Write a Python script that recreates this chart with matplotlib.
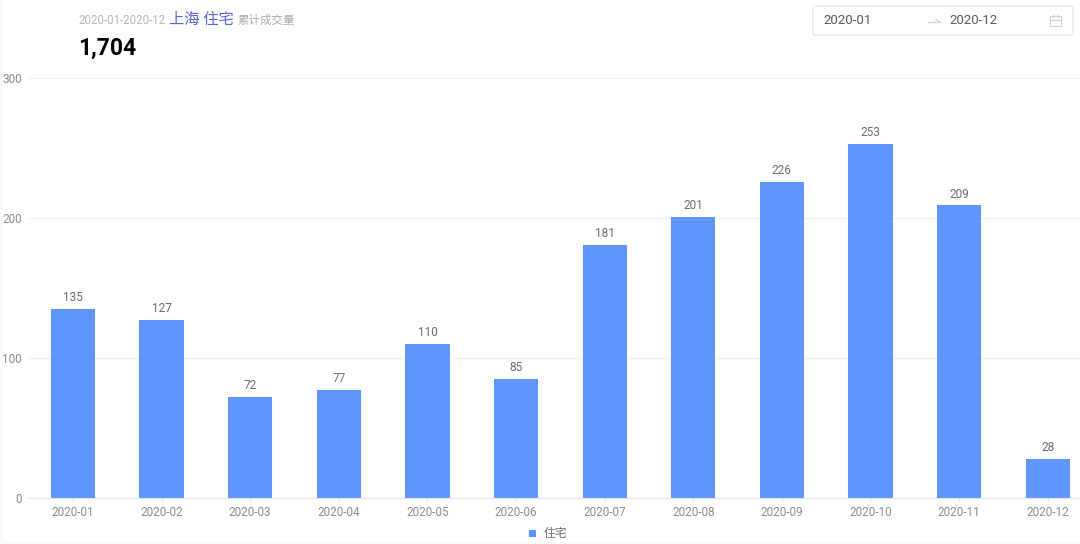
# plot.py - monthly residential transactions, Shanghai 2020
import matplotlib
matplotlib.use("Agg")
import matplotlib.pyplot as plt
from matplotlib.patches import FancyBboxPatch, Rectangle

plt.rcParams['font.family'] = ['Roboto', 'Noto Sans CJK SC', 'DejaVu Sans']

months = ['2020-01', '2020-02', '2020-03', '2020-04', '2020-05', '2020-06',
          '2020-07', '2020-08', '2020-09', '2020-10', '2020-11', '2020-12']
values = [135, 127, 72, 77, 110, 85, 181, 201, 226, 253, 209, 28]
y_ticks = [0, 100, 200, 300]
series_name = '住宅'
total_label = '1,704'
date_range = '2020-01-2020-12'
city_type = '上海 住宅'
caption = '累计成交量'
range_start = '2020-01'
range_end = '2020-12'

W, H = 1080, 544
BAR = '#5f95fc'

fig = plt.figure(figsize=(W / 100, H / 100), dpi=100, facecolor='#f6f9ff')


def px(x, y):
    # pixel position (y from the top) to figure fraction
    return x / W, 1 - y / H


# white card behind everything
overlay = fig.add_axes([0, 0, 1, 1], zorder=0)
overlay.set_xlim(0, W)
overlay.set_ylim(H, 0)
overlay.axis('off')
overlay.add_patch(FancyBboxPatch((3, -20), W + 30, H + 20 - 2,
                                 boxstyle='round,pad=0,rounding_size=8',
                                 fc='white', ec='none'))

# chart runs a little past the right edge, same as the screenshot
left, right, top, bottom = 28.7, 1092, 78, 498
ax = fig.add_axes([left / W, 1 - bottom / H, (right - left) / W, (bottom - top) / H],
                  zorder=1, clip_on=True)
ax.patch.set_alpha(0)
ax.bar(months, values, width=0.5, color=BAR, zorder=2)
ax.set_xlim(-0.5, 11.5)
ax.set_ylim(0, 300)
ax.set_yticks(y_ticks)
ax.grid(axis='y', color='#f2f2f2', linewidth=1, zorder=0)
ax.set_axisbelow(True)
for side in ['top', 'right', 'left']:
    ax.spines[side].set_visible(False)
ax.spines['bottom'].set_color('#e6e6e6')
ax.tick_params(axis='x', length=3, color='#e6e6e6', labelsize=8.5, labelcolor='#8c8c8c', pad=3)
ax.tick_params(axis='y', length=0, labelsize=8.5, labelcolor='#8c8c8c', pad=5)

for i, v in enumerate(values):
    ax.annotate(str(v), (i, v), xytext=(0, 3.5), textcoords='offset points',
                ha='center', va='bottom', fontsize=8.5, color='#6a6a6a')

# header
fig.text(*px(78, 20), date_range, fontsize=8.3, color='#b5b5c0', va='center')
fig.text(*px(169, 20), city_type, fontsize=11, color='#5a62cc', va='center')
fig.text(*px(237, 20), caption, fontsize=8.3, color='#a8a8b0', va='center')
fig.text(*px(78.5, 48.5), total_label, fontsize=16.5, fontweight='bold', color='black', va='center')

# date picker box
overlay.add_patch(FancyBboxPatch((813, 6), 260, 29, boxstyle='round,pad=0,rounding_size=2',
                                 fc='white', ec='#e8e8e8', lw=1))
fig.text(*px(823.5, 21), range_start, fontsize=9.5, color='#595959', va='center')
fig.text(*px(949, 21), range_end, fontsize=9.5, color='#595959', va='center')
overlay.plot([928, 940], [22, 22], color='#d0d0d0', lw=0.9)
overlay.plot([936, 940], [19.5, 22], color='#d0d0d0', lw=0.9)
overlay.add_patch(Rectangle((1050, 16), 11, 10, fc='none', ec='#cfcfcf', lw=0.8))
overlay.plot([1050, 1061], [19.5, 19.5], color='#cfcfcf', lw=0.8)
overlay.plot([1053, 1053], [14.5, 17], color='#cfcfcf', lw=0.8)
overlay.plot([1058, 1058], [14.5, 17], color='#cfcfcf', lw=0.8)

# legend
overlay.add_patch(Rectangle((529, 530), 7, 7, fc=BAR, ec='none'))
fig.text(*px(544, 533), series_name, fontsize=8.5, color='#6e6e6e', va='center')

fig.savefig('out.png', dpi=100, facecolor=fig.get_facecolor())
